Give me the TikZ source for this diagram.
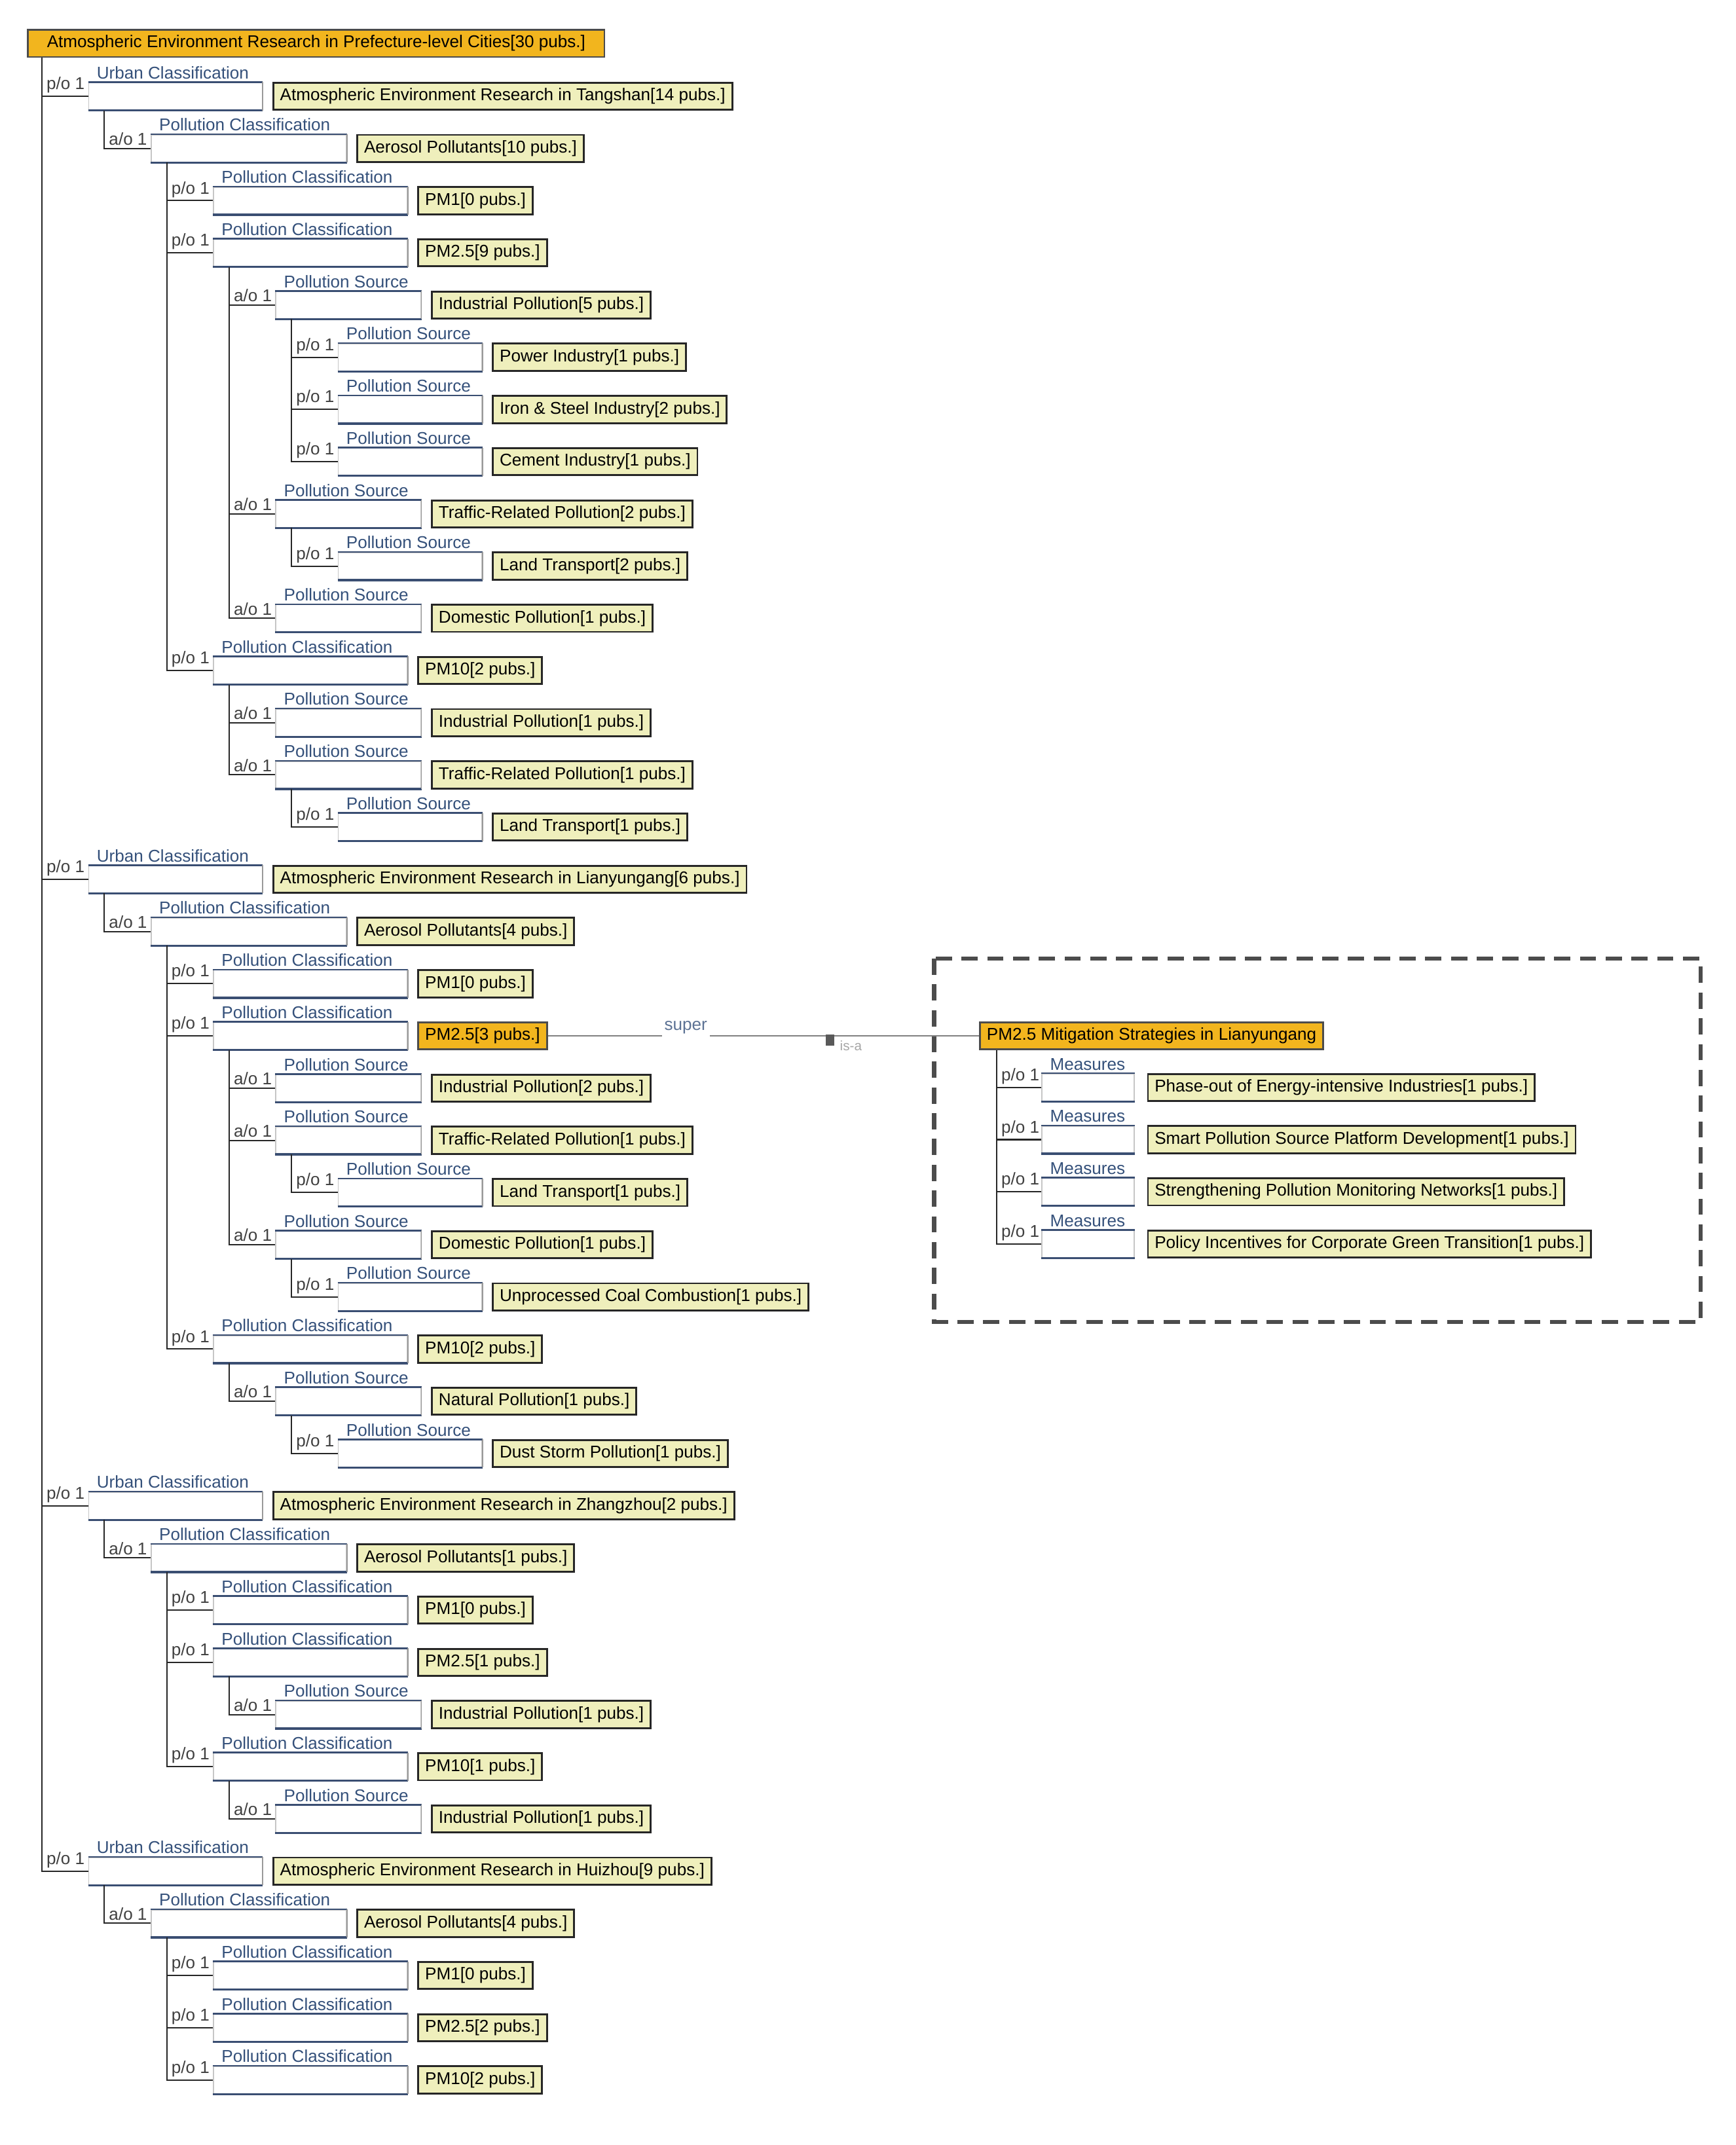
\documentclass[tikz,border=0pt]{standalone}
\usepackage{fontspec}
\setmainfont{Liberation Sans}
\definecolor{ylw}{HTML}{EFEFBC}
\definecolor{org}{HTML}{F2B51E}
\definecolor{catc}{HTML}{34507A}
\definecolor{wline}{HTML}{3A4E72}
\begin{document}
\begin{tikzpicture}[x=0.5pt,y=-0.5pt,
  every node/.style={font=\fontsize{6.3}{7}\selectfont},
  wbox/.style={draw=gray!45,fill=white,minimum height=10pt,inner sep=0pt},
  ybox/.style={draw=black!85,line width=0.7pt,fill=ylw,minimum height=10pt,inner xsep=2.5pt,inner ysep=0pt},
  obox/.style={draw=black!70,line width=0.7pt,fill=org,minimum height=10pt,inner xsep=2.5pt,inner ysep=0pt},
  cat/.style={text=catc,inner sep=1pt},
  rel/.style={text=black!75,inner sep=1pt},
  tree/.style={draw=black!85,line width=0.5pt}]
\useasboundingbox (0,0) rectangle (1280,1582);
\node[obox,anchor=west,minimum width=212.5pt] (root) at (20,32) {Atmospheric Environment Research in Prefecture-level Cities[30 pubs.]};
\expandafter\xdef\csname pn0\endcsname{root}
\foreach \i/\l/\t in {
1/1/{Atmospheric Environment Research in Tangshan[14 pubs.]},
2/2/{Aerosol Pollutants[10 pubs.]},
3/3/{PM1[0 pubs.]},
4/3/{PM2.5[9 pubs.]},
5/4/{Industrial Pollution[5 pubs.]},
6/5/{Power Industry[1 pubs.]},
7/5/{Iron \& Steel Industry[2 pubs.]},
8/5/{Cement Industry[1 pubs.]},
9/4/{Traffic-Related Pollution[2 pubs.]},
10/5/{Land Transport[2 pubs.]},
11/4/{Domestic Pollution[1 pubs.]},
12/3/{PM10[2 pubs.]},
13/4/{Industrial Pollution[1 pubs.]},
14/4/{Traffic-Related Pollution[1 pubs.]},
15/5/{Land Transport[1 pubs.]},
16/1/{Atmospheric Environment Research in Lianyungang[6 pubs.]},
17/2/{Aerosol Pollutants[4 pubs.]},
18/3/{PM1[0 pubs.]},
19/3/{PM2.5[3 pubs.]},
20/4/{Industrial Pollution[2 pubs.]},
21/4/{Traffic-Related Pollution[1 pubs.]},
22/5/{Land Transport[1 pubs.]},
23/4/{Domestic Pollution[1 pubs.]},
24/5/{Unprocessed Coal Combustion[1 pubs.]},
25/3/{PM10[2 pubs.]},
26/4/{Natural Pollution[1 pubs.]},
27/5/{Dust Storm Pollution[1 pubs.]},
28/1/{Atmospheric Environment Research in Zhangzhou[2 pubs.]},
29/2/{Aerosol Pollutants[1 pubs.]},
30/3/{PM1[0 pubs.]},
31/3/{PM2.5[1 pubs.]},
32/4/{Industrial Pollution[1 pubs.]},
33/3/{PM10[1 pubs.]},
34/4/{Industrial Pollution[1 pubs.]},
35/1/{Atmospheric Environment Research in Huizhou[9 pubs.]},
36/2/{Aerosol Pollutants[4 pubs.]},
37/3/{PM1[0 pubs.]},
38/3/{PM2.5[2 pubs.]},
39/3/{PM10[2 pubs.]}} {
  \pgfmathsetmacro\yy{71+(\i-1)*38.5}
  \pgfmathsetmacro\xl{31+46*(\l-1)}
  \ifcase\l\or \def\ww{64pt}\def\cn{Urban Classification}\def\rl{p/o 1}%
  \or \def\ww{72pt}\def\cn{Pollution Classification}\def\rl{a/o 1}%
  \or \def\ww{71.5pt}\def\cn{Pollution Classification}\def\rl{p/o 1}%
  \or \def\ww{53.5pt}\def\cn{Pollution Source}\def\rl{a/o 1}%
  \or \def\ww{53pt}\def\cn{Pollution Source}\def\rl{p/o 1}\fi
  \pgfmathtruncatemacro\pl{\l-1}
  \edef\pp{\csname pn\pl\endcsname}
  \node[wbox,minimum width=\ww,anchor=west] (w\i) at (\xl+34,\yy) {};
  \draw[wline,line width=0.6pt] (w\i.north west) -- (w\i.north east);
  \draw[wline,line width=0.8pt] (w\i.south west) -- (w\i.south east);
  \draw[gray!80] (w\i.north east) -- (w\i.south east);
  \node[cat,anchor=south west] at ([xshift=2pt]w\i.north west) {\cn};
  \ifnum\i=19
    \node[obox,anchor=west] (y\i) at ([xshift=3.5pt]w\i.east) {\t};
  \else
    \node[ybox,anchor=west] (y\i) at ([xshift=3.5pt]w\i.east) {\t};
  \fi
  \coordinate (tmp) at (\xl,0);
  \draw[tree] (tmp |- \pp.south) |- (w\i.west);
  \node[rel,anchor=south west] at (\xl+1,\yy) {\rl};
  \expandafter\xdef\csname pn\l\endcsname{w\i}
}
% right part
\draw[line width=1.6pt,gray!60!black,dash pattern=on 6pt off 3.5pt] (689,707) rectangle (1254,975);
\node[obox,anchor=west] (R) at (722,764) {PM2.5 Mitigation Strategies in Lianyungang};
\foreach \j/\t in {1/{Phase-out of Energy-intensive Industries[1 pubs.]},
2/{Smart Pollution Source Platform Development[1 pubs.]},
3/{Strengthening Pollution Monitoring Networks[1 pubs.]},
4/{Policy Incentives for Corporate Green Transition[1 pubs.]}} {
  \pgfmathsetmacro\yy{802+(\j-1)*38.5}
  \node[wbox,minimum width=34pt,anchor=west] (m\j) at (768,\yy) {};
  \draw[wline,line width=0.6pt] (m\j.north west) -- (m\j.north east);
  \draw[wline,line width=0.8pt] (m\j.south west) -- (m\j.south east);
  \node[cat,anchor=south west] at ([xshift=2pt]m\j.north west) {Measures};
  \node[ybox,anchor=west] (n\j) at ([xshift=4.5pt]m\j.east) {\t};
  \coordinate (tmp) at (735,0);
  \draw[tree] (tmp |- R.south) |- (m\j.west);
  \node[rel,anchor=south west] at (736,\yy) {p/o 1};
}
% is-a connector
\draw[gray,line width=0.6pt] (y19.east) -- node[pos=0.32,fill=white,text=catc!80,inner sep=1pt,yshift=3pt]{super} (R.west);
\coordinate (sq) at (612,767);
\fill[gray!70!black] ([shift={(-3,-4)}]sq) rectangle ([shift={(3,4)}]sq);
\node[text=gray!70,anchor=north west,inner sep=0.5pt,font=\fontsize{5}{6}\selectfont] at (618,766) {is-a};
\end{tikzpicture}
\end{document}
